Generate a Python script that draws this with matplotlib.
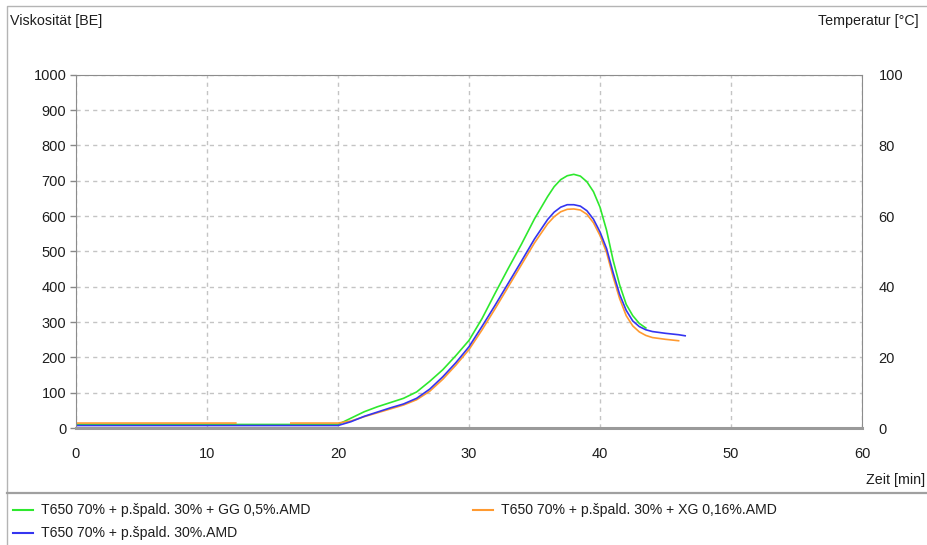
import matplotlib.pyplot as plt
import numpy as np
from matplotlib.lines import Line2D

# Viscosity curves (BE) over time (min)
t_green = [0, 20, 21, 22, 23, 24, 25, 26, 27, 28, 29, 30, 31, 32, 33, 34, 35, 36,
           36.5, 37, 37.5, 38, 38.5, 39, 39.5, 40, 40.5, 41, 41.5, 42, 42.5, 43, 43.5]
v_green = [10, 10, 28, 46, 60, 72, 84, 102, 132, 165, 205, 248, 310, 382, 452, 520, 592, 655,
           683, 703, 714, 718, 713, 697, 669, 625, 560, 475, 405, 350, 318, 296, 283]

t_orange = [0, 12.2, 12.3, 16.4, 20, 21, 22, 23, 24, 25, 26, 27, 28, 29, 30, 31, 32, 33, 34,
            35, 36, 36.5, 37, 37.5, 38, 38.5, 39, 39.5, 40, 40.5, 41, 41.5, 42, 42.5, 43, 43.5,
            44, 45, 46]
v_orange = [14, 14, np.nan, 14, 14, 20, 32, 43, 54, 65, 80, 104, 138, 178, 222, 278, 338, 400, 462,
            524, 578, 598, 612, 619, 620, 617, 605, 581, 545, 497, 428, 366, 318, 289, 272, 262,
            256, 251, 247]

t_blue = [0, 20, 21, 22, 23, 24, 25, 26, 27, 28, 29, 30, 31, 32, 33, 34, 35, 36, 36.5, 37, 37.5,
          38, 38.5, 39, 39.5, 40, 40.5, 41, 41.5, 42, 42.5, 43, 43.5, 44, 45, 46, 46.5]
v_blue = [7, 7, 18, 33, 45, 57, 68, 84, 110, 145, 185, 230, 288, 348, 410, 472, 535, 590, 611, 625, 632,
          632, 628, 615, 591, 555, 508, 440, 378, 333, 303, 287, 278, 273, 268, 264, 261]

labels = ["T650 70% + p.špald. 30% + GG 0,5%.AMD",
          "T650 70% + p.špald. 30% + XG 0,16%.AMD",
          "T650 70% + p.špald. 30%.AMD"]
colors = ["#2ee82e", "#ff9a30", "#3535f0"]

x_ticks = [0, 10, 20, 30, 40, 50, 60]
y_ticks = [0, 100, 200, 300, 400, 500, 600, 700, 800, 900, 1000]
t_ticks = [0, 20, 40, 60, 80, 100]

plt.rcParams['font.family'] = ['Liberation Sans', 'DejaVu Sans']
txt = "#1e1e1e"
W, H = 927, 545

fig = plt.figure(figsize=(W / 100, H / 100), dpi=100)
fig.patch.set_facecolor("white")
ax = fig.add_axes([76 / W, 1 - 428 / H, (862 - 76) / W, (428 - 74.7) / H])

ax.plot(t_green, v_green, color=colors[0], lw=1.2)
ax.plot(t_orange, v_orange, color=colors[1], lw=1.2)
ax.plot(t_blue, v_blue, color=colors[2], lw=1.2)

ax.set_xlim(0, 60)
ax.set_ylim(0, 1000)
ax.set_xticks(x_ticks)
ax.set_yticks(y_ticks)
ax.grid(True, color="#c4c4c4", linestyle=(0, (3, 3)), lw=1)
ax.tick_params(axis="y", colors="#888888", labelcolor=txt, labelsize=10.5, length=4, width=1, pad=3)
ax.tick_params(axis="x", colors="#888888", labelcolor=txt, labelsize=10.5, length=0, pad=14)
for s in ["left", "right", "top"]:
    ax.spines[s].set_color("#8c8c8c")
ax.spines["bottom"].set_color("#9a9a9a")
ax.spines["bottom"].set_linewidth(2.2)

ax2 = ax.twinx()
ax2.set_ylim(0, 100)
ax2.set_yticks(t_ticks)
ax2.tick_params(colors="#888888", labelcolor=txt, labelsize=10.5, length=0, pad=12)
for s in ax2.spines.values():
    s.set_visible(False)

fig.text(10 / W, 1 - 21 / H, "Viskosität [BE]", fontsize=10.3, color=txt, va="center", ha="left")
fig.text(919 / W, 1 - 21 / H, "Temperatur [°C]", fontsize=10.3, color=txt, va="center", ha="right")
fig.text(925 / W, 1 - 480 / H, "Zeit [min]", fontsize=10.3, color=txt, va="center", ha="right")

# outer frame (top and left) and legend separator
fig.add_artist(Line2D([7 / W, 7 / W, 1], [0, 1 - 6 / H, 1 - 6 / H], transform=fig.transFigure,
                      color="#b4b4b4", lw=1))
fig.add_artist(Line2D([7 / W, 1], [1 - 492.5 / H] * 2, transform=fig.transFigure,
                      color="#a0a0a0", lw=1.6))

# legend
pos = [(13, 510), (473, 510), (13, 533)]
for (px, py), lab, c in zip(pos, labels, colors):
    fig.add_artist(Line2D([px / W, (px + 20) / W], [1 - py / H] * 2,
                          transform=fig.transFigure, color=c, lw=1.5))
    fig.text((px + 28) / W, 1 - py / H, lab, fontsize=10.1, color=txt, va="center", ha="left")

plt.savefig("out.png", dpi=100)
plt.close()
